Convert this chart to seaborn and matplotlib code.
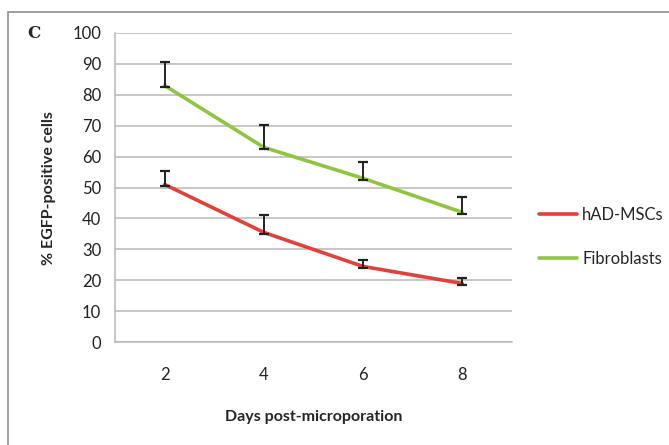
import pandas as pd
import matplotlib
matplotlib.use("Agg")
import matplotlib.pyplot as plt
import seaborn as sns
from matplotlib.patches import Rectangle

# values
days = ["2", "4", "6", "8"]
msc_mean = [51, 35.5, 24.5, 19]
msc_err = [4.5, 5.5, 2.2, 1.8]
fib_mean = [83, 63, 53, 42]
fib_err = [7.5, 7.2, 5.2, 4.8]
series = ["hAD-MSCs", "Fibroblasts"]
colors = ["#E2413B", "#8EC641"]

df = pd.DataFrame({
    "Day": days * 2,
    "Value": msc_mean + fib_mean,
    "Group": [series[0]] * 4 + [series[1]] * 4,
})

sns.set_theme(style="white")
plt.rcParams["font.family"] = ["Lato", "DejaVu Sans"]

fig = plt.figure(figsize=(6.69, 4.45), dpi=100)
ax = fig.add_axes([0.172, 0.231, 0.593, 0.695])

sns.lineplot(data=df, x="Day", y="Value", hue="Group", palette=colors,
             linewidth=2.6, ax=ax, sort=False)

# error bars (upward with small cap at the point)
for means, errs in [(msc_mean, msc_err), (fib_mean, fib_err)]:
    ax.errorbar(days, means, yerr=[[0.4] * 4, errs], fmt="none",
                ecolor="#222222", elinewidth=1.4, capsize=3.5, capthick=1.6, zorder=5)

ax.set_xlim(-0.5, 3.5)
ax.set_ylim(0, 100)
ax.set_yticks(range(0, 101, 10))
ax.yaxis.grid(True, color="#B8B8B8", linewidth=1.1)
ax.set_axisbelow(True)
for s in ["top", "right"]:
    ax.spines[s].set_visible(False)
for s in ["left", "bottom"]:
    ax.spines[s].set_color("#B8B8B8")
    ax.spines[s].set_linewidth(1.1)
ax.tick_params(axis="both", length=0, labelsize=12, colors="#222222")
ax.tick_params(axis="x", pad=18)
ax.tick_params(axis="y", pad=10)

ax.set_xlabel("Days post-microporation", fontsize=11.5, fontweight="bold", labelpad=19)
ax.set_ylabel("% EGFP-positive cells", fontsize=11.5, fontweight="bold", labelpad=12)

ax.legend(loc="center left", bbox_to_anchor=(1.03, 0.34), frameon=False,
          fontsize=12, handlelength=2.3, handletextpad=0.3, labelspacing=1.7)

fig.text(0.04, 0.915, "C", fontsize=12, fontweight="bold", family="DejaVu Serif")
fig.patches.append(Rectangle((0.012, -0.05), 1.05, 1.023, transform=fig.transFigure,
                             fill=False, edgecolor="#999999", linewidth=1.3))

fig.savefig("out.png", dpi=100)
